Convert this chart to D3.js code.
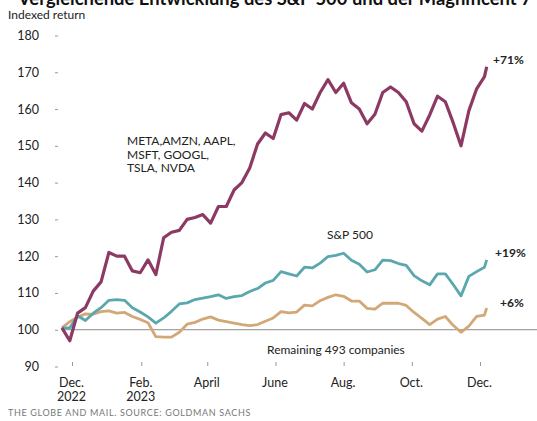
<!DOCTYPE html>
<html>
<head>
<meta charset="utf-8">
<script src="https://cdn.jsdelivr.net/npm/d3@7"></script>
<style>
  body { margin: 0; background: #fff; }
  svg { display: block; font-family: Lato, "Open Sans", sans-serif; }
</style>
</head>
<body>
<svg></svg>
<script>
// indexed return, weekly, 100 = Nov 22 2022
const width = 537;
const height = 421;

const dates = [
  "2022-11-22","2022-11-29","2022-12-06","2022-12-13","2022-12-20","2022-12-27",
  "2023-01-03","2023-01-10","2023-01-17","2023-01-24","2023-01-31","2023-02-07",
  "2023-02-14","2023-02-21","2023-02-28","2023-03-07","2023-03-14","2023-03-21",
  "2023-03-28","2023-04-04","2023-04-11","2023-04-18","2023-04-25","2023-05-02",
  "2023-05-09","2023-05-16","2023-05-23","2023-05-30","2023-06-06","2023-06-13",
  "2023-06-20","2023-06-27","2023-07-04","2023-07-11","2023-07-18","2023-07-25",
  "2023-08-01","2023-08-08","2023-08-15","2023-08-22","2023-08-29","2023-09-05",
  "2023-09-12","2023-09-19","2023-09-26","2023-10-03","2023-10-10","2023-10-17",
  "2023-10-24","2023-10-31","2023-11-07","2023-11-14","2023-11-21","2023-11-28",
  "2023-12-05","2023-12-07"
];

const mag7 = [
  100.5, 97, 104.5, 106, 110.5, 113, 121, 120, 120, 116, 115.5, 119,
  115, 125, 126.5, 127, 130, 130.5, 131.3, 129, 133.5, 133.5, 138, 140,
  144, 150.5, 153.5, 152, 158.5, 159, 157, 161.5, 160, 164.5, 168, 164.5,
  167, 161.7, 160, 156, 158.6, 164.5, 166, 164.5, 162, 156, 154, 158.4,
  163.5, 162, 156.3, 150, 159.5, 165.5, 168.8, 171.5
];

const sp500 = [
  100.5, 100.5, 103.8, 102.5, 104.5, 106, 108, 108.2, 108, 106, 104.8, 103.5,
  101.8, 103.2, 105, 107, 107.3, 108.2, 108.6, 109, 109.5, 108.5, 109, 109.3,
  110.4, 111.2, 112.7, 113.4, 115.8, 115.2, 114.6, 117, 116.8, 118.1, 119.9, 120.2,
  120.8, 118.9, 117.8, 115.7, 116.3, 118.9, 118.8, 118, 117.5, 114.7, 113.3, 112.2,
  115.2, 115.2, 112.3, 109.2, 114.5, 115.8, 117, 119
];

const rest493 = [
  100.5, 102.2, 103.4, 104.3, 104.2, 104.9, 105.1, 104.5, 104.7, 103.6, 102.8, 101.9,
  98.1, 98, 98, 99.3, 101.5, 102, 102.9, 103.5, 102.6, 102.2, 101.8, 101.4,
  101.1, 101.4, 102.3, 103.2, 104.9, 104.6, 104.8, 106.7, 106.5, 107.9, 108.8, 109.5,
  109.1, 107.8, 107.8, 105.8, 105.6, 107.2, 107.2, 107.2, 106.6, 104.7, 103.1, 101.4,
  102.9, 103.6, 101.2, 99.3, 101, 103.6, 104, 105.9
];

const yTicks = [90, 100, 110, 120, 130, 140, 150, 160, 170, 180];
const xTickDates = ["2022-12-01", "2023-02-01", "2023-04-01", "2023-06-01", "2023-08-01", "2023-10-01", "2023-12-01"];
const xTickLabels = [["Dec.", "2022"], ["Feb.", "2023"], ["April"], ["June"], ["Aug."], ["Oct."], ["Dec."]];
const endLabels = ["+71%", "+19%", "+6%"];

const parse = d3.timeParse("%Y-%m-%d");

const svg = d3.select("svg")
    .attr("width", width)
    .attr("height", height);

const x = d3.scaleTime()
    .domain([parse("2022-12-01"), parse("2023-12-01")])
    .range([72, 480]);

const y = d3.scaleLinear()
    .domain([90, 180])
    .range([366.5, 35.5]);

// title, cut at the top like the screenshot
svg.append("text")
    .attr("x", 18)
    .attr("y", 5)
    .attr("font-size", 18.4)
    .attr("font-weight", "bold")
    .attr("fill", "#111")
    .text("Vergleichende Entwicklung des S&P 500 und der Magnificent 7");

svg.append("text")
    .attr("x", 8)
    .attr("y", 19)
    .attr("font-size", 12)
    .attr("fill", "#222")
    .text("Indexed return");

// y axis
const yAxis = svg.append("g")
    .attr("transform", "translate(58,0)")
    .call(d3.axisLeft(y).tickValues(yTicks).tickSize(3).tickPadding(16));
yAxis.select(".domain").remove();
yAxis.selectAll(".tick line").attr("stroke", "#999");
yAxis.selectAll(".tick text")
    .attr("font-family", "Lato, sans-serif")
    .attr("font-size", 12.5)
    .attr("fill", "#222");

// x axis
const xAxis = svg.append("g")
    .attr("transform", "translate(0,362)")
    .call(d3.axisBottom(x).tickValues(xTickDates.map(parse)).tickSize(4).tickFormat(""));
xAxis.select(".domain").remove();
xAxis.selectAll(".tick line").attr("stroke", "#999");
xAxis.selectAll(".tick").each(function(d, i) {
  const t = d3.select(this).append("text")
      .attr("text-anchor", "middle")
      .attr("font-family", "Lato, sans-serif")
      .attr("font-size", 12.5)
      .attr("fill", "#222");
  xTickLabels[i].forEach((s, j) => {
    t.append("tspan").attr("x", -1).attr("y", 25 + j * 14).text(s);
  });
});

// baseline at 100
svg.append("line")
    .attr("x1", 62)
    .attr("x2", width)
    .attr("y1", y(100))
    .attr("y2", y(100))
    .attr("stroke", "#8a8a8a")
    .attr("stroke-width", 1);

const line = d3.line()
    .x((d, i) => x(parse(dates[i])))
    .y(d => y(d));

const series = [
  { values: rest493, color: "#d2a877", w: 2.8 },
  { values: sp500, color: "#5aa8ae", w: 2.8 },
  { values: mag7, color: "#8c3a63", w: 3.2 }
];

svg.selectAll("path.series")
    .data(series)
    .join("path")
    .attr("class", "series")
    .attr("d", d => line(d.values))
    .attr("fill", "none")
    .attr("stroke", d => d.color)
    .attr("stroke-width", d => d.w)
    .attr("stroke-linejoin", "round");

// annotations
const ann = svg.append("g")
    .attr("font-size", 12)
    .attr("fill", "#222");

const mag = ann.append("text").attr("x", 127);
["META,AMZN, AAPL,", "MSFT, GOOGL,", "TSLA, NVDA"].forEach((s, j) => {
  mag.append("tspan").attr("x", 127).attr("y", 145 + j * 13.5).text(s);
});

ann.append("text").attr("x", 327).attr("y", 239).text("S&P 500");
ann.append("text").attr("x", 267).attr("y", 354).text("Remaining 493 companies");

ann.append("text").attr("x", 493).attr("y", 64).attr("font-weight", "bold").text(endLabels[0]);
ann.append("text").attr("x", 495).attr("y", 257).attr("font-weight", "bold").text(endLabels[1]);
ann.append("text").attr("x", 500).attr("y", 307).attr("font-weight", "bold").text(endLabels[2]);

// source
svg.append("text")
    .attr("x", 8)
    .attr("y", 416)
    .attr("font-size", 9)
    .attr("letter-spacing", 0.65)
    .attr("fill", "#777")
    .text("THE GLOBE AND MAIL. SOURCE: GOLDMAN SACHS");
</script>
</body>
</html>
